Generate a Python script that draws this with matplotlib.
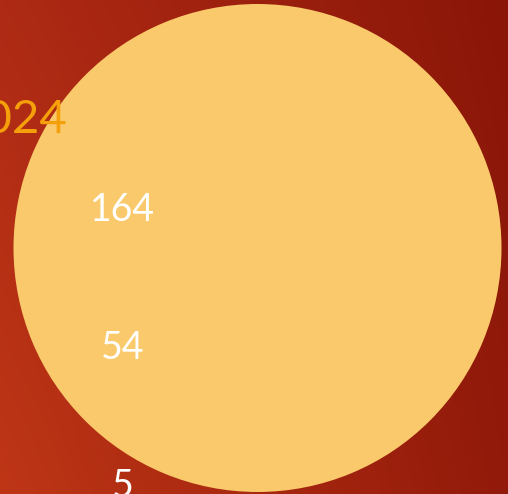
import numpy as np
import matplotlib
matplotlib.use("Agg")
import matplotlib.pyplot as plt
from matplotlib.colors import to_rgb

# Data
year_labels = ["2024"]
values = [164, 54, 5]
value_labels = [str(v) for v in values]
bubble_size = [1]

W, H = 508, 494
fig = plt.figure(figsize=(W / 100, H / 100), dpi=100)

# Background gradient (bilinear between corner colours)
bg = fig.add_axes([0, 0, 1, 1])
bg.set_axis_off()
xx, yy = np.meshgrid(np.linspace(0, 1, 300), np.linspace(0, 1, 300))  # yy: 0 bottom
TL, BL, TR, BR = [np.array(to_rgb(c)) for c in ("#AE2A14", "#BE3616", "#8A1608", "#921A0A")]
img = ((1 - xx)[..., None] * (yy[..., None] * TL + (1 - yy)[..., None] * BL)
       + xx[..., None] * (yy[..., None] * TR + (1 - yy)[..., None] * BR))
bg.imshow(img, origin="lower", extent=[0, 1, 0, 1], aspect="auto")
bg.set_xlim(0, 1)
bg.set_ylim(0, 1)

# Circle
cx, cy, r = 257.5, 248, 244
ax = fig.add_axes([(cx - r) / W, (H - cy - r) / H, 2 * r / W, 2 * r / H])
ax.pie(bubble_size, colors=["#F9C96B"], startangle=90,
       wedgeprops=dict(linewidth=0))
ax.set_xlim(-1, 1)
ax.set_ylim(-1, 1)
ax.set_axis_off()

font = ["Lato", "DejaVu Sans"]

# Year title
fig.text(68 / W, 1 - 120 / H, year_labels[0], ha="right", va="center",
         color="#F5A00A", fontsize=34, family=font, fontweight="normal")

# Value labels
ys = [210, 348, 486]
for lab, y in zip(value_labels, ys):
    fig.text(123 / W, 1 - y / H, lab, ha="center", va="center",
             color="white", fontsize=27, family=font, fontweight="normal")

fig.savefig("out.png", dpi=100)
